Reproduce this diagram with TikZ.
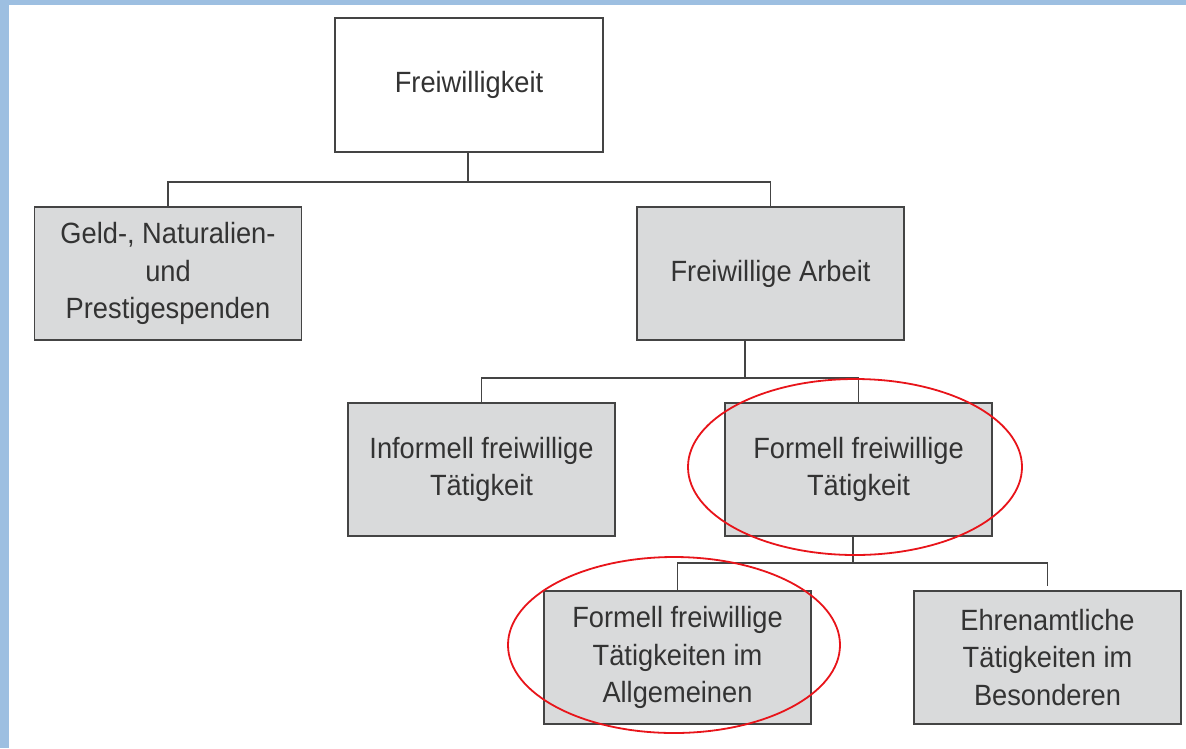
\documentclass[tikz,border=0pt]{standalone}
\usepackage{fontspec}
\setmainfont{Liberation Sans}[FakeStretch=0.93]
\definecolor{stripblue}{HTML}{9DBFE1}
\definecolor{boxgray}{HTML}{D9DADB}
\definecolor{lineg}{HTML}{444444}
\definecolor{txt}{HTML}{333333}
\definecolor{ringred}{HTML}{E8141A}
\begin{document}
\begin{tikzpicture}[x=1pt,y=-1pt,
  box/.style={draw=lineg, line width=1.5pt, fill=boxgray, minimum width=267pt, minimum height=133pt,
    align=center, inner sep=0pt, text=txt, font=\fontsize{29.3}{37.5}\selectfont},
  topbox/.style={box, fill=white},
  conn/.style={draw=lineg, line width=1.5pt},
  ring/.style={draw=ringred, line width=1.8pt}]
\useasboundingbox (0,0) rectangle (1186,748);
\fill[white] (0,0) rectangle (1186,748);
\fill[stripblue] (0,0) rectangle (1186,5);
\fill[stripblue] (0,0) rectangle (9,748);

\node[topbox, minimum height=134pt, minimum width=268pt] (fw) at (469,85) {Freiwilligkeit};
\node[box] (geld) at (168,273.5) {Geld-, Naturalien-\\und\\Prestigespenden};
\node[box] (arb) at (770.5,273.5) {Freiwillige Arbeit};
\node[box] (inf) at (481.5,469.5) {Informell freiwillige\\Tätigkeit};
\node[box] (form) at (858.5,469.5) {Formell freiwillige\\Tätigkeit};
\node[box] (allg) at (677.5,657.5) {Formell freiwillige\\Tätigkeiten im\\Allgemeinen};
\node[box] (ehr) at (1047.5,657.5) {Ehrenamtliche\\Tätigkeiten im\\Besonderen};

\coordinate (j1) at (468,182);
\coordinate (j2) at (745,378);
\coordinate (j3) at (853,563);

\draw[conn] (fw.south -| j1) -- (j1);
\draw[conn] (geld.north) |- (j1) -| (arb.north);
\draw[conn] (arb.south -| j2) -- (j2);
\draw[conn] (inf.north) |- (j2) -| (form.north);
\draw[conn] (form.south -| j3) -- (j3);
\draw[conn] (allg.north) |- (j3);
\draw[conn, shorten >=4pt] (j3) -| (ehr.north);

\draw[ring] (855,467) ellipse [x radius=167, y radius=88];
\draw[ring] (674,645) ellipse [x radius=166, y radius=88];
\end{tikzpicture}
\end{document}
